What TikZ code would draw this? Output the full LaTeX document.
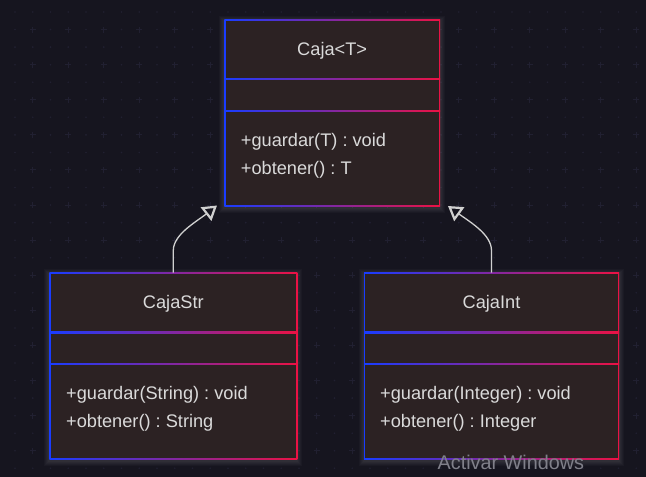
\documentclass[tikz,border=0pt]{standalone}
\usepackage{fontspec}
\setmainfont{Liberation Sans}
\usetikzlibrary{arrows.meta}
\definecolor{bgc}{RGB}{22,21,31}
\definecolor{gridc}{RGB}{33,32,49}
\definecolor{boxfill}{RGB}{44,34,35}
\definecolor{bl}{RGB}{25,60,255}
\definecolor{rd}{RGB}{235,18,68}
\definecolor{txt}{RGB}{218,218,218}
\definecolor{linec}{RGB}{208,208,208}
\definecolor{wm}{RGB}{128,128,138}
\tikzset{
  umlbox/.style={rectangle, inner sep=0pt, outer sep=0pt,
    left color=bl, right color=rd,
    path picture={\fill[boxfill]
      ([shift={(1.3pt,-1.3pt)}]path picture bounding box.north west) rectangle
      ([shift={(-1.3pt,1.3pt)}]path picture bounding box.south east);}},
  divider/.style={left color=bl, right color=rd, draw=none},
  titletext/.style={text=txt, font=\fontsize{18.2}{22}\selectfont, inner sep=0pt, anchor=center},
  methtext/.style={text=txt, font=\fontsize{18.2}{22}\selectfont, inner sep=0pt, anchor=west},
  inherit/.style={draw=linec, line width=1.3pt,
    -{Triangle[open, length=14pt, width=17pt, line width=2.2pt]}},
  halo/.style={fill=white, fill opacity=0.025, draw=none}
}
\begin{document}
\frenchspacing
\begin{tikzpicture}[x=1pt,y=-1pt]
\fill[bgc] (0,0) rectangle (646,477);
\useasboundingbox (0,0) rectangle (646,477);
% grid
\foreach \i in {0,...,36}{
  \foreach \j in {0,...,26}{
    \pgfmathsetmacro{\xx}{15+17.75*\i}
    \pgfmathsetmacro{\yy}{12+17.55*\j}
    \pgfmathtruncatemacro{\odd}{mod(\i,2)*mod(\j,2)}
    \ifnum\odd=1
      \draw[gridc, line width=1pt] (\xx-3,\yy) -- (\xx+3,\yy) (\xx,\yy-3) -- (\xx,\yy+3);
    \else
      \fill[gridc] (\xx,\yy) circle (0.9pt);
    \fi
  }
}
% halos
\foreach \a/\b/\c/\d in {224.3/19.7/440/206.3, 49.3/272.5/297.3/459, 364/272.5/619/459}{
  \foreach \k in {1,...,5}{
    \fill[halo] (\a-\k,\b-\k+1) rectangle (\c+\k,\d+\k+1.5);
  }
}
% boxes
\node[umlbox, minimum width=215.7pt, minimum height=186.6pt] (caja) at (332.15,113) {};
\node[umlbox, minimum width=248pt, minimum height=186.5pt] (cstr) at (173.3,365.75) {};
\node[umlbox, minimum width=255pt, minimum height=186.5pt] (cint) at (491.5,365.75) {};
% dividers
\shade[divider] (224.3,78.4) rectangle (440,79.8);
\shade[divider] (224.3,110.4) rectangle (440,111.8);
\shade[divider] (49.3,331.8) rectangle (297.3,333.2);
\shade[divider] (49.3,363.4) rectangle (297.3,364.8);
\shade[divider] (364,331.8) rectangle (619,333.2);
\shade[divider] (364,363.4) rectangle (619,364.8);
% texts
\node[titletext] (cajaT) at (332.15,51) {Caja<T>};
\node[methtext] (cajaM1) at (240.7,141.8) {+guardar(T) : void};
\node[methtext] (cajaM2) at (240.7,169.8) {+obtener() : T};
\node[titletext] (cstrT) at (173.3,303.5) {CajaStr};
\node[methtext] (cstrM1) at (66,394.3) {+guardar(String) : void};
\node[methtext] (cstrM2) at (66,422.3) {+obtener() : String};
\node[titletext] (cintT) at (491.5,303.5) {CajaInt};
\node[methtext] (cintM1) at (380,394.3) {+guardar(Integer) : void};
\node[methtext] (cintM2) at (380,422.3) {+obtener() : Integer};
% connectors
\coordinate (tipL) at (217,205.5);
\coordinate (tipR) at (448,206);
\draw[inherit] (cstr.north) -- ++(0,-22) .. controls ++(0,-16) and (196,222) .. (tipL);
\draw[inherit] (cint.north) -- ++(0,-22) .. controls ++(0,-16) and (470,222) .. (tipR);
% watermark
\node[text=wm, font=\fontsize{19.8}{23}\selectfont, inner sep=0pt, anchor=west] (wmark) at (437.5,462) {Activar Windows};
\end{tikzpicture}
\end{document}
